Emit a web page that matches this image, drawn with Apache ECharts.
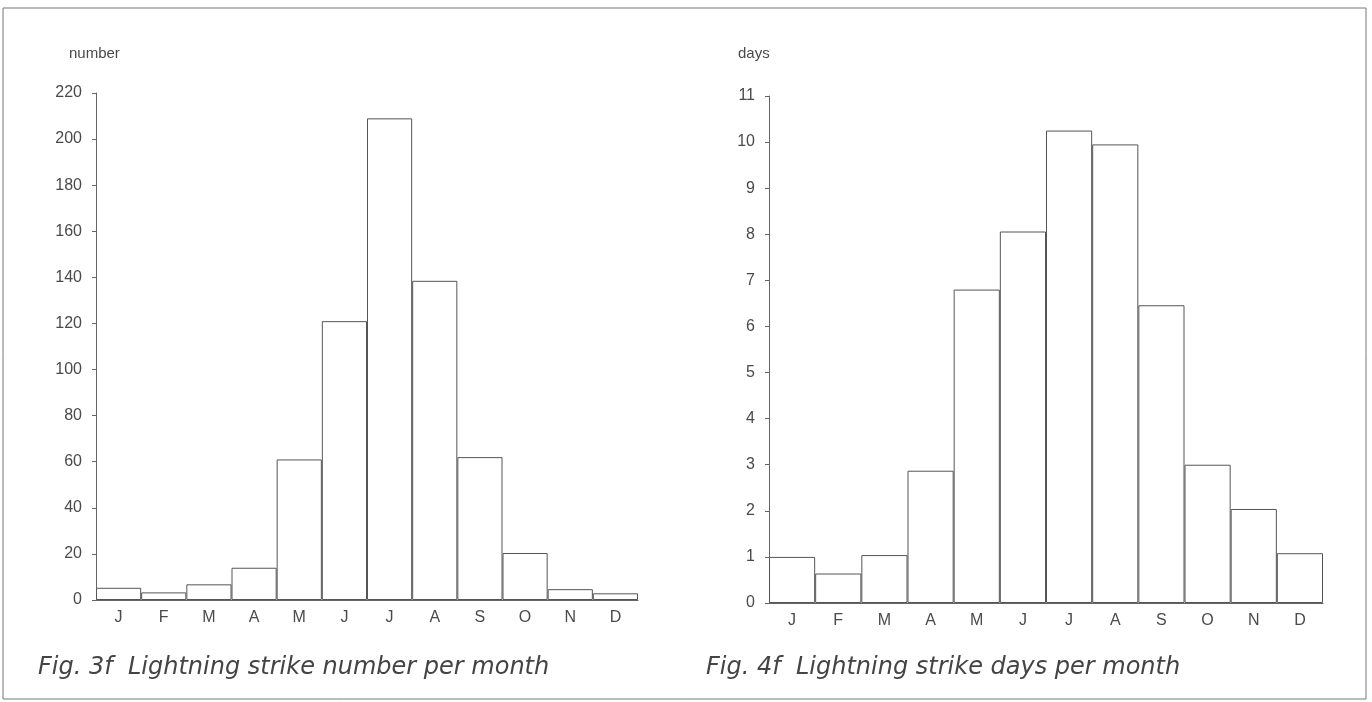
<!DOCTYPE html>
<html>
<head>
<meta charset="utf-8">
<script src="https://cdn.jsdelivr.net/npm/echarts@6/dist/echarts.min.js"></script>
<style>
html,body{margin:0;padding:0;background:#fff;}
#c{width:1372px;height:702px;}
</style>
</head>
<body>
<div id="c"></div>
<script>
const months = ['J','F','M','A','M','J','J','A','S','O','N','D'];
const strikeNumber = [5.3, 3.3, 6.8, 14, 61, 121, 209, 138.5, 62, 20.4, 4.7, 2.9];
const strikeDays = [1.0, 0.64, 1.04, 2.87, 6.8, 8.06, 10.25, 9.95, 6.46, 3.0, 2.04, 1.08];
const leftTitle = 'Fig. 3f  Lightning strike number per month';
const rightTitle = 'Fig. 4f  Lightning strike days per month';
const leftUnit = 'number';
const rightUnit = 'days';

const FONT = 'Liberation Sans';
const TFONT = 'DejaVu Sans';
const TXT = '#4a4a4a';
const LINE = '#666';

const chart = echarts.init(document.getElementById('c'), null, {renderer:'canvas'});

function xAx(idx){
  return {
    type:'category', gridIndex:idx, data:months,
    axisLine:{show:true, lineStyle:{color:LINE, width:1}},
    axisTick:{show:false},
    axisLabel:{color:TXT, fontFamily:FONT, fontSize:16, margin:10}
  };
}
function yAx(idx, max, interval){
  return {
    type:'value', gridIndex:idx, min:0, max:max, interval:interval,
    axisLine:{show:true, lineStyle:{color:LINE, width:1}},
    axisTick:{show:true, length:4, lineStyle:{color:LINE}},
    splitLine:{show:false},
    axisLabel:{color:TXT, fontFamily:FONT, fontSize:16, margin:14}
  };
}
const barStyle = {color:'#fff', borderColor:'#555', borderWidth:1};

chart.setOption({
  animation:false,
  backgroundColor:'#fff',
  title:[
    {text:leftUnit, left:64, top:41, textStyle:{color:TXT, fontFamily:FONT, fontSize:15, fontWeight:'normal'}},
    {text:rightUnit, left:733, top:41, textStyle:{color:TXT, fontFamily:FONT, fontSize:15, fontWeight:'normal'}},
    {text:leftTitle, left:33, top:651, textStyle:{color:'#444', fontFamily:TFONT, fontSize:24, fontStyle:'italic', fontWeight:'normal'}},
    {text:rightTitle, left:701, top:651, textStyle:{color:'#444', fontFamily:TFONT, fontSize:24, fontStyle:'italic', fontWeight:'normal'}}
  ],
  grid:[
    {left:96, top:93, width:542, height:507},
    {left:769, top:96, width:554, height:507}
  ],
  xAxis:[xAx(0), xAx(1)],
  yAxis:[yAx(0, 220, 20), yAx(1, 11, 1)],
  series:[
    {type:'bar', xAxisIndex:0, yAxisIndex:0, data:strikeNumber, barCategoryGap:'0%', itemStyle:barStyle},
    {type:'bar', xAxisIndex:1, yAxisIndex:1, data:strikeDays, barCategoryGap:'0%', itemStyle:barStyle}
  ],
  graphic:[
    {type:'rect', shape:{x:3, y:8, width:1363, height:691}, style:{fill:null, stroke:'#777', lineWidth:1}, silent:true}
  ]
});
</script>
</body>
</html>
